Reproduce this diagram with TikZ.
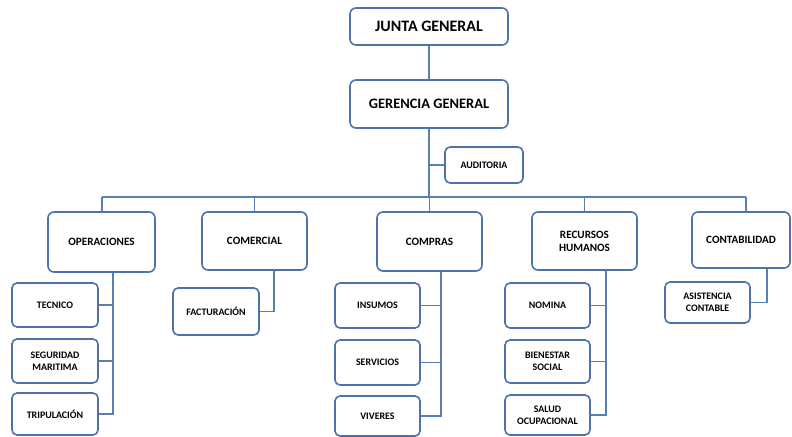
\documentclass[tikz,border=0pt]{standalone}
\usepackage{fontspec}
\setmainfont{Carlito}
\begin{document}
\begin{tikzpicture}[x=1bp,y=-1bp,
  line width=1.6bp,
  every node/.style={font=\bfseries},
  box/.style={draw=boxblue, fill=white, rounded corners=6bp, align=center,
    inner sep=1bp, line width=1.6bp},
  topbox/.style={box, minimum width=158bp, font=\fontsize{16}{18}\selectfont\bfseries},
  midbox/.style={box, minimum width=105bp, minimum height=58bp,
    font=\fontsize{11.2}{13}\selectfont\bfseries},
  subbox/.style={box, minimum width=86bp, minimum height=45bp, rounded corners=5bp,
    font=\fontsize{10}{11.6}\selectfont\bfseries},
  conn/.style={draw=lineblue, line width=1.8bp}]
\definecolor{boxblue}{HTML}{4F72AC}
\definecolor{lineblue}{HTML}{5A7FB6}
\useasboundingbox (0,0) rectangle (792,437);

% top level
\node[topbox, minimum height=37bp] (JG) at (429,26.5) {JUNTA GENERAL};
\node[topbox, minimum height=48bp, font=\fontsize{14.5}{16}\selectfont\bfseries] (GG) at (429,104) {GERENCIA GENERAL};
\node[subbox, minimum width=78bp, minimum height=36bp] (AUD) at (484,165) {AUDITORIA};

% second level
\node[midbox, minimum width=107bp, minimum height=60bp] (OPE) at (101.5,242) {OPERACIONES};
\node[midbox] (COM) at (254.5,241) {COMERCIAL};
\node[midbox, minimum height=59bp] (CPR) at (429.5,241.5) {COMPRAS};
\node[midbox] (RH) at (584.5,241) {RECURSOS\\HUMANOS};
\node[midbox, minimum width=98bp, minimum height=56bp] (CON) at (741,240) {CONTABILIDAD};

% third level
\node[subbox, minimum height=44bp] (TEC) at (55,305) {TECNICO};
\node[subbox, minimum height=44bp] (SEG) at (55,361) {SEGURIDAD\\MARITIMA};
\node[subbox, minimum height=42bp] (TRI) at (55,414) {TRIPULACIÓN};

\node[subbox, minimum height=47bp] (FAC) at (216,311.5) {FACTURACIÓN};

\node[subbox, minimum width=85bp] (INS) at (377.5,305.5) {INSUMOS};
\node[subbox, minimum width=85bp] (SER) at (377.5,362.5) {SERVICIOS};
\node[subbox, minimum width=85bp, minimum height=40bp] (VIV) at (377.5,416) {VIVERES};

\node[subbox, minimum width=85bp] (NOM) at (547.5,305.5) {NOMINA};
\node[subbox, minimum width=85bp, minimum height=43bp] (BIE) at (547.5,361.5) {BIENESTAR\\SOCIAL};
\node[subbox, minimum width=85bp, minimum height=40bp] (SAL) at (547.5,415) {SALUD\\OCUPACIONAL};

\node[subbox, minimum width=85bp, minimum height=41bp] (ASI) at (707.5,302.5) {ASISTENCIA\\CONTABLE};

% bus coordinates and trunks
\coordinate (busL) at (102,197);
\coordinate (busR) at (746,197);
\coordinate (opeT) at (113,0);
\coordinate (comT) at (274,0);
\coordinate (cprT) at (441,0);
\coordinate (rhT) at (606,0);
\coordinate (conT) at (767,0);

% connectors
\draw[conn] (JG.south) -- (GG.north);
\draw[conn] (GG.south) -- (GG.south |- busL);
\draw[conn] (AUD.west) -- (AUD.west -| GG.south);
\draw[conn] (busL) -- (busR);
\draw[conn] (busL) -- (busL |- OPE.north);
\draw[conn] (COM.north |- busL) -- (COM.north);
\draw[conn] (CPR.north |- busL) -- (CPR.north);
\draw[conn] (RH.north |- busL) -- (RH.north);
\draw[conn] (busR) -- (busR |- CON.north);

\draw[conn] (OPE.south -| opeT) |- (TRI.east);
\draw[conn] (TEC.east) -- (TEC.east -| opeT);
\draw[conn] (SEG.east) -- (SEG.east -| opeT);

\draw[conn] (COM.south -| comT) |- (FAC.east);

\draw[conn] (CPR.south -| cprT) |- (VIV.east);
\draw[conn] (INS.east) -- (INS.east -| cprT);
\draw[conn] (SER.east) -- (SER.east -| cprT);

\draw[conn] (RH.south -| rhT) |- (SAL.east);
\draw[conn] (NOM.east) -- (NOM.east -| rhT);
\draw[conn] (BIE.east) -- (BIE.east -| rhT);

\draw[conn] (CON.south -| conT) |- (ASI.east);
\end{tikzpicture}
\end{document}
